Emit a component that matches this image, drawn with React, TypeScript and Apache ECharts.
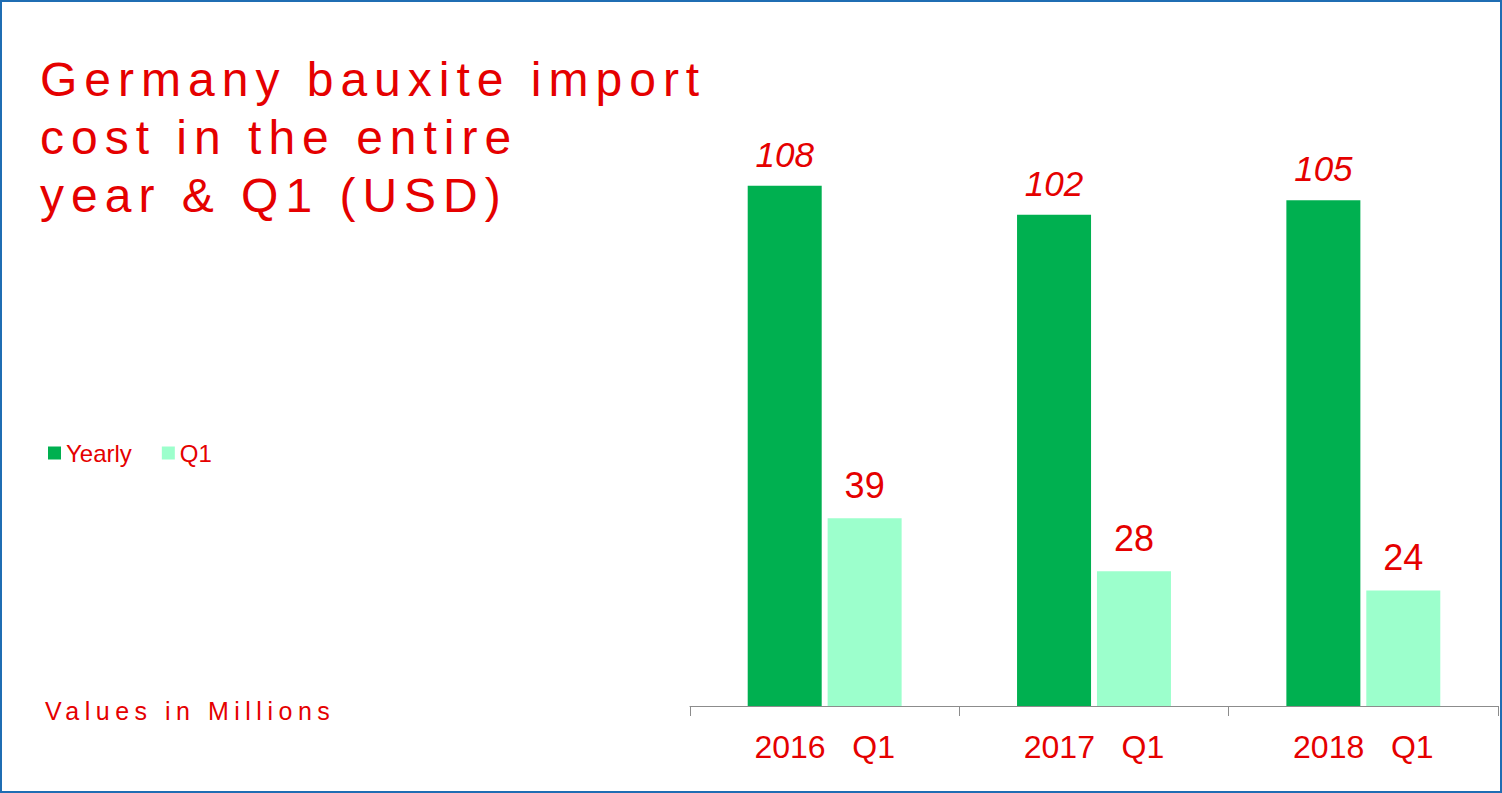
import React, { useEffect, useRef } from "react";
import * as echarts from "echarts";

const categories = ["2016   Q1", "2017   Q1", "2018   Q1"];
const yearlyValues = [108, 102, 105];
const q1Values = [39, 28, 24];
const titleLines = ["Germany bauxite import", "cost in the entire", "year & Q1 (USD)"];
const noteText = "Values in Millions";

const RED = "#e50000";

export default function App() {
  const ref = useRef<HTMLDivElement>(null);
  useEffect(() => {
    document.body.style.margin = "0";
    if (!ref.current) return;
    const chart = echarts.init(ref.current, null, { renderer: "svg" });
    chart.setOption({
      animation: false,
      backgroundColor: "#ffffff",
      title: {
        text: titleLines.join("\n"),
        left: 35,
        top: 45,
        textStyle: {
          fontFamily: "Liberation Sans, Arial, sans-serif",
          fontSize: 48,
          lineHeight: 58,
          fontWeight: "normal",
          color: RED,
        },
      },
      legend: {
        left: 48,
        top: 441,
        padding: 0,
        icon: "rect",
        itemWidth: 13,
        itemHeight: 13,
        itemGap: 30,
        textStyle: {
          fontFamily: "Liberation Sans, Arial, sans-serif",
          fontSize: 24,
          color: RED,
        },
        data: ["Yearly", "Q1"],
      },
      graphic: [
        {
          type: "rect",
          shape: { x: 1, y: 1, width: 1500, height: 791 },
          style: { fill: "none", stroke: "#1f6db3", lineWidth: 2 },
          silent: true,
        },
        {
          type: "text",
          left: 45,
          top: 698,
          style: {
            text: noteText,
            fontFamily: "Liberation Sans, Arial, sans-serif",
            fontSize: 25,
            fill: RED,
          },
        },
      ],
      grid: { left: 690, right: 4, top: 128, bottom: 87 },
      xAxis: {
        type: "category",
        data: categories,
        axisLine: { lineStyle: { color: "#8c8c8c", width: 1 } },
        axisTick: { show: true, length: 10, lineStyle: { color: "#8c8c8c", width: 1 } },
        axisLabel: {
          margin: 25,
          fontFamily: "Liberation Sans, Arial, sans-serif",
          fontSize: 32,
          color: RED,
        },
      },
      yAxis: {
        type: "value",
        min: 0,
        max: 120,
        show: false,
        splitLine: { show: false },
      },
      series: [
        {
          name: "Yearly",
          type: "bar",
          data: yearlyValues,
          barWidth: 74,
          barGap: "8%",
          itemStyle: { color: "#00b050" },
          label: {
            show: true,
            position: "top",
            distance: 14,
            fontFamily: "Liberation Sans, Arial, sans-serif",
            fontSize: 35,
            fontStyle: "italic",
            color: RED,
          },
        },
        {
          name: "Q1",
          type: "bar",
          data: q1Values,
          barWidth: 74,
          barGap: "8%",
          itemStyle: { color: "#9cffcc" },
          label: {
            show: true,
            position: "top",
            distance: 15,
            fontFamily: "Liberation Sans, Arial, sans-serif",
            fontSize: 36,
            color: RED,
          },
        },
      ],
    });
    const spacing: Record<string, string> = {};
    titleLines.forEach((t) => (spacing[t] = "7px"));
    spacing[noteText] = "5.5px";
    ref.current.querySelectorAll("text").forEach((el) => {
      const t = (el.textContent || "").trim();
      if (spacing[t]) el.setAttribute("letter-spacing", spacing[t]);
    });
    return () => chart.dispose();
  }, []);
  return <div ref={ref} style={{ width: 1502, height: 793 }} />;
}
